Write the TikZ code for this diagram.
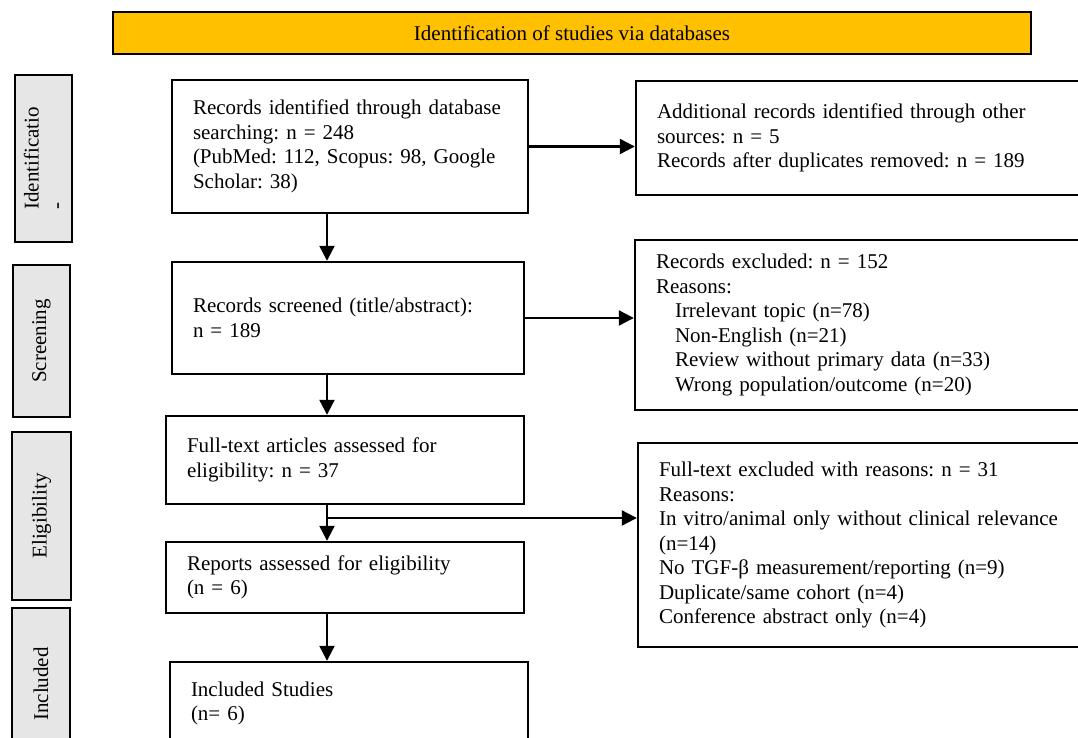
\documentclass[tikz,border=0pt]{standalone}
\usepackage{fontspec}
\setmainfont{Liberation Serif}
\usepackage{xcolor}
\definecolor{bannerorange}{RGB}{255,192,0}
\definecolor{phasegray}{RGB}{231,230,230}
\usetikzlibrary{positioning,arrows.meta}
\frenchspacing

\begin{document}
\begin{tikzpicture}[
      x=1pt,y=-1pt,
      txt/.style={font=\fontsize{21}{24.5}\selectfont},
      flowbox/.style={txt,draw,line width=2.4pt,align=left,
        inner xsep=21pt,inner ysep=0pt},
      phase/.style={txt,draw,line width=2.4pt,fill=phasegray,rotate=90,
        inner sep=0pt},
      arr/.style={line width=2.2pt,-{Triangle[length=15pt,width=15pt]}}
    ]
    \useasboundingbox (0,0) rectangle (1078,738);
    % banner
    \node[txt,draw,line width=2.4pt,fill=bannerorange,minimum width=918pt,
      minimum height=42pt] (banner) at (572,33)
      {Identification of studies via databases};
    % phase labels
    \node[phase,minimum width=167pt,minimum height=57pt,align=left]
      (identphase) at (43.5,158.5) {Identificatio\\-};
    \node[phase,minimum width=152pt,minimum height=57pt]
      (screenphase) at (41.5,341) {Screening};
    \node[phase,minimum width=168pt,minimum height=59pt]
      (eligphase) at (41.5,516) {Eligibility};
    \node[phase,minimum width=152pt,minimum height=58pt]
      (inclphase) at (41,684) {Included};
    % left column
    \node[flowbox,text width=314pt,minimum height=133pt] (rec) at (350,146.5)
      {Records identified through database\\
       searching: n = 248\\
       (PubMed: 112, Scopus: 98, Google\\
       Scholar: 38)};
    \node[flowbox,text width=310pt,minimum height=112pt] (screen) at (348,318)
      {Records screened (title/abstract):\\
       n = 189};
    \node[flowbox,text width=316pt,minimum height=88pt] (fulltext) at (345,460)
      {Full-text articles assessed for\\
       eligibility: n = 37};
    \node[flowbox,text width=316pt,minimum height=71pt] (reports) at (345,577.5)
      {Reports assessed for eligibility\\
       (n = 6)};
    \node[flowbox,text width=316pt,minimum height=83pt] (incl) at (349,703.5)
      {Included Studies\\
       (n= 6)};
    % right column
    \node[flowbox,text width=422pt,minimum height=114pt] (addl) at (868,138)
      {Additional records identified through other\\
       sources: n = 5\\
       Records after duplicates removed: n = 189};
    \node[flowbox,text width=423pt,minimum height=170pt] (excl) at (867.5,325)
      {Records excluded: n = 152\\
       Reasons:\\
       \hspace*{19pt}Irrelevant topic (n=78)\\
       \hspace*{19pt}Non-English (n=21)\\
       \hspace*{19pt}Review without primary data (n=33)\\
       \hspace*{19pt}Wrong population/outcome (n=20)};
    \node[flowbox,text width=420pt,minimum height=204pt] (ftexcl) at (869,545)
      {Full-text excluded with reasons: n = 31\\
       Reasons:\\
       In vitro/animal only without clinical relevance\\
       (n=14)\\
       No TGF-β measurement/reporting (n=9)\\
       Duplicate/same cohort (n=4)\\
       Conference abstract only (n=4)};
    % connectors
    \coordinate (spine) at (327,0);
    \coordinate (split) at (327,518);
    \draw[arr] (rec.south -| spine) -- (screen.north -| spine);
    \draw[arr] (screen.south -| spine) -- (fulltext.north -| spine);
    \draw[arr] (fulltext.south -| spine) -- (reports.north -| spine);
    \draw[arr] (reports.south -| spine) -- (incl.north -| spine);
    \draw[arr] (rec.east) -- (rec.east -| addl.west);
    \draw[arr] (screen.east) -- (screen.east -| excl.west);
    \draw[arr] (split) -- (split -| ftexcl.west);
  \end{tikzpicture}
\end{document}
